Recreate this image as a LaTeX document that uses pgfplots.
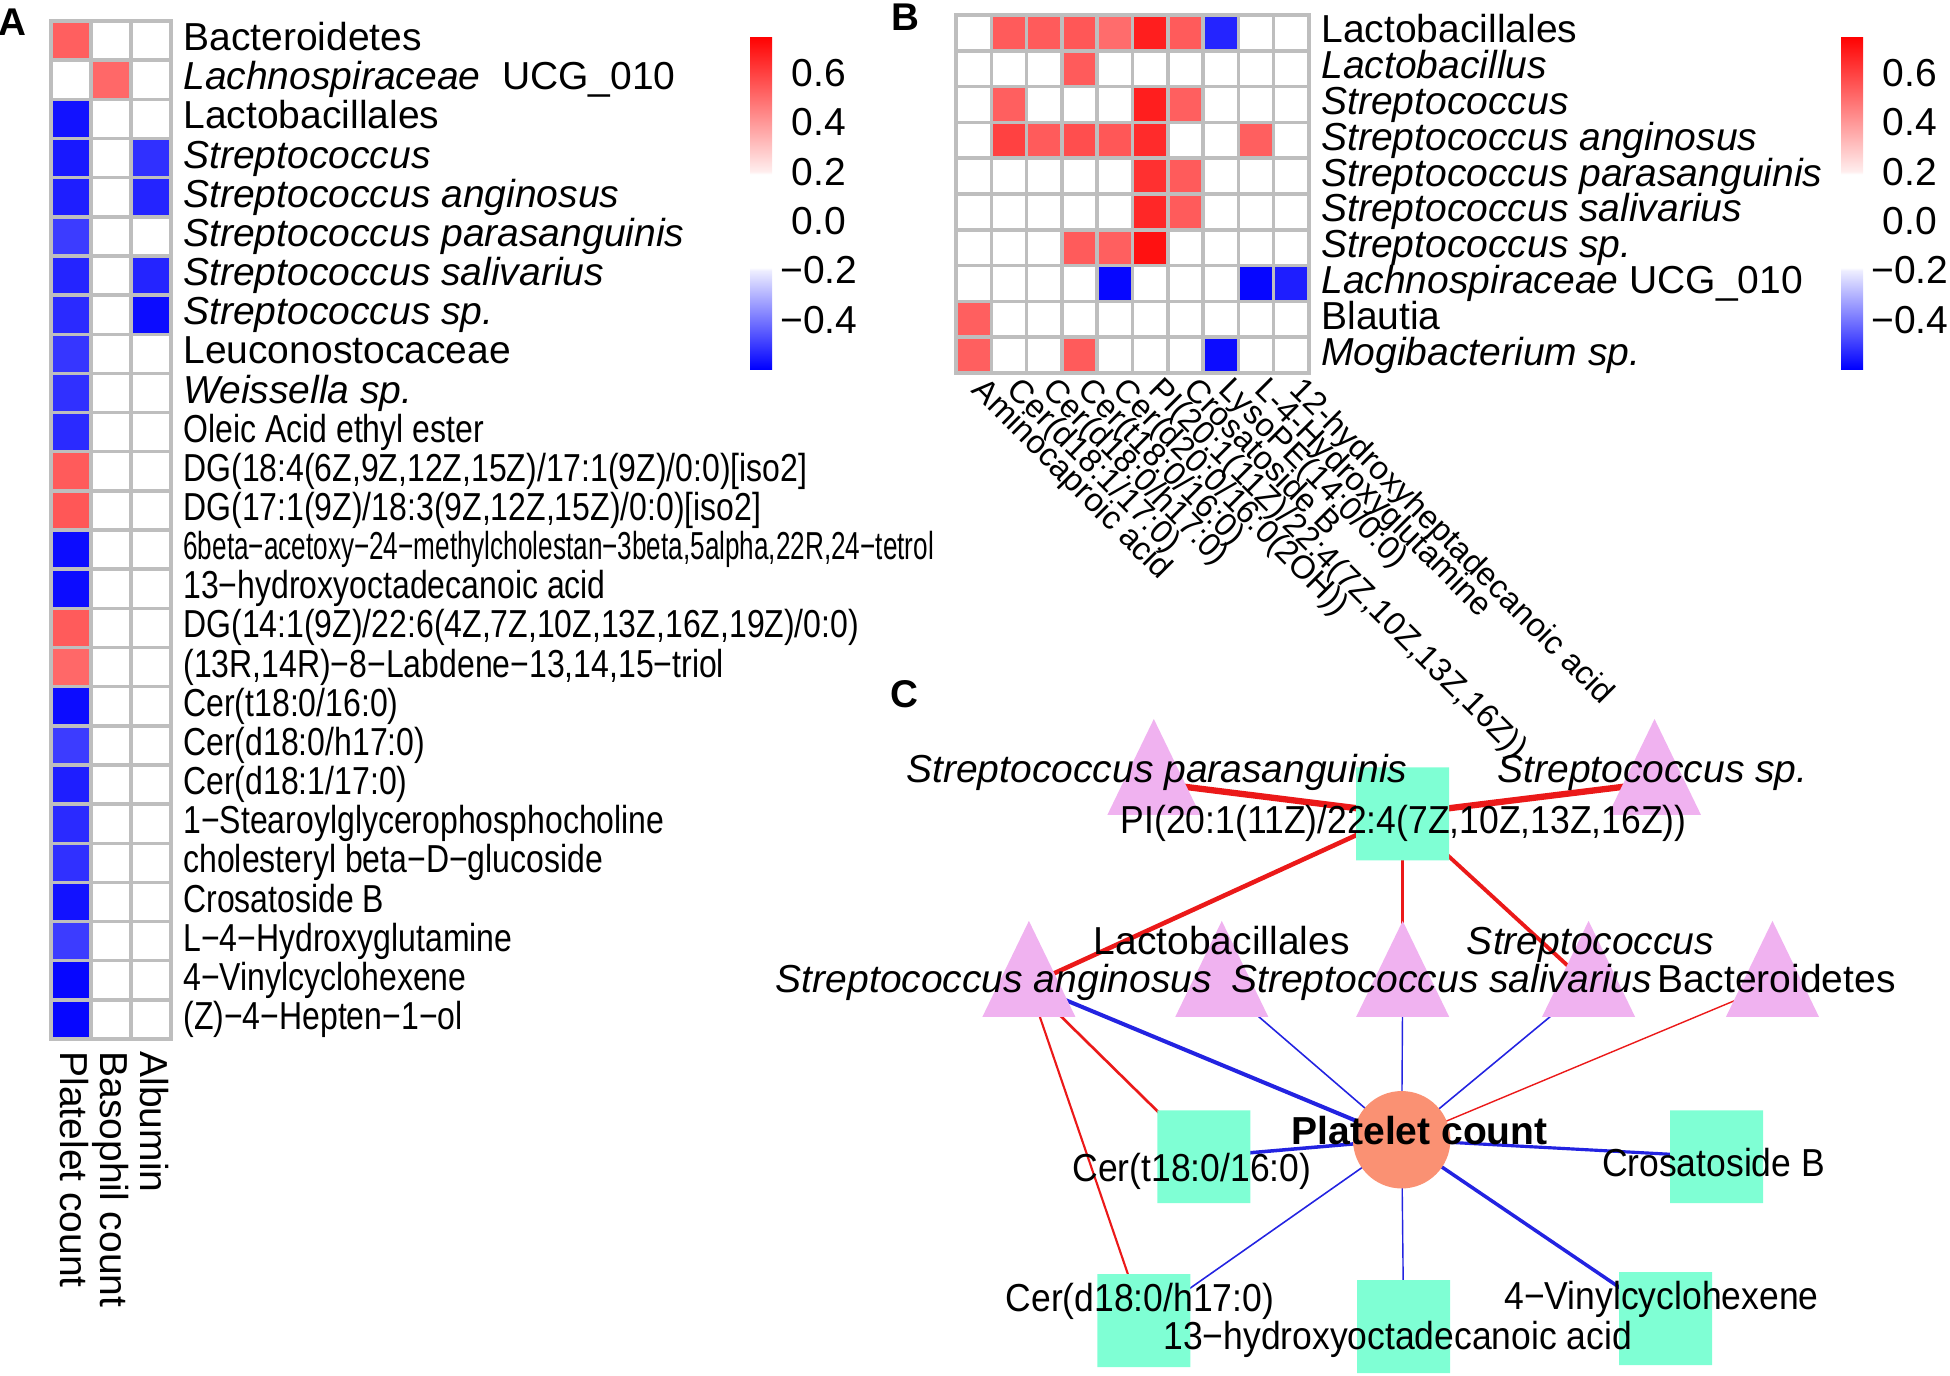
\documentclass[border=0pt]{standalone}
\usepackage{fontspec}
\setmainfont{Liberation Sans}
\usepackage{graphicx}
\usepackage{pgfplots}
\pgfplotsset{compat=1.18}

\definecolor{gridgray}{RGB}{190,190,190}
\definecolor{edgered}{RGB}{235,25,25}
\definecolor{edgeblue}{RGB}{35,35,225}
\definecolor{trifill}{RGB}{240,178,240}
\definecolor{sqfill}{RGB}{127,255,212}
\definecolor{circfill}{RGB}{250,145,115}

\newcommand\fs{\fontsize{11.1}{13.3}\selectfont}
\newcommand\fss{\fontsize{9.3}{11}\selectfont}
\newcommand\cn[1]{\scalebox{0.82}[1]{#1}}
\newcommand\cc[1]{\scalebox{0.91}[1]{#1}}

% rounded square and tall triangle for the network nodes
\pgfdeclareplotmark{rsq}{%
  \pgfsetcornersarced{\pgfqpoint{0.25\pgfplotmarksize}{0.25\pgfplotmarksize}}%
  \pgfpathmoveto{\pgfqpoint{0pt}{-\pgfplotmarksize}}%
  \pgfpathlineto{\pgfqpoint{\pgfplotmarksize}{-\pgfplotmarksize}}%
  \pgfpathlineto{\pgfqpoint{\pgfplotmarksize}{\pgfplotmarksize}}%
  \pgfpathlineto{\pgfqpoint{-\pgfplotmarksize}{\pgfplotmarksize}}%
  \pgfpathlineto{\pgfqpoint{-\pgfplotmarksize}{-\pgfplotmarksize}}%
  \pgfpathclose
  \pgfusepathqfill}
\pgfdeclareplotmark{tri}{%
  \pgfpathmoveto{\pgfqpoint{0pt}{1.376\pgfplotmarksize}}%
  \pgfpathlineto{\pgfqpoint{\pgfplotmarksize}{-0.688\pgfplotmarksize}}%
  \pgfpathlineto{\pgfqpoint{-\pgfplotmarksize}{-0.688\pgfplotmarksize}}%
  \pgfpathclose
  \pgfusepathqfill}

\pgfplotsset{
  colormap={corr}{rgb255(0pt)=(0,0,255); rgb255(40pt)=(238,238,255); rgb255(41pt)=(255,255,255);
    rgb255(79pt)=(255,255,255); rgb255(80pt)=(255,238,238); rgb255(135pt)=(255,0,0)},
  heat/.style={
    scale only axis, y dir=reverse, axis on top,
    colormap name=corr, point meta min=-0.6, point meta max=0.75,
    grid=minor, minor grid style={gridgray, line width=1pt},
    axis line style={gridgray, line width=1pt},
    major tick length=0pt, minor tick length=0pt,
    xticklabel pos=lower, yticklabel pos=right,
    yticklabel style={anchor=west, font=\fs, text height=8pt, text depth=2.3pt},
  },
  cbar/.style={colorbar, colorbar style={at={(#1)}, anchor=north west,
    scale only axis, width=0.22cm, height=3.33cm, axis line style={draw=none},
    ytick={-0.4,-0.2,0,0.2,0.4,0.6}, yticklabels={−0.4,−0.2,0.0,0.2,0.4,0.6},
    major tick length=0pt,
    yticklabel style={font=\fs, anchor=center, xshift=0.47cm}}},
  netbox/.style={at={(8.6cm,-6.8cm)}, anchor=north west, x=0.01cm, y=0.01cm,
    xmin=860, xmax=1950, ymin=680, ymax=1376, y dir=reverse, hide axis, clip=false},
}
\tikzset{lab/.style={font=\fs, text height=8pt, text depth=2.3pt, inner sep=0pt},
  panel/.style={font=\bfseries\fontsize{11}{13}\selectfont, inner sep=0pt}}

\begin{document}
\begin{tikzpicture}
\useasboundingbox (0,0) rectangle (19.5,-13.76);
\coordinate (cbA) at (7.20,-0.36);
\coordinate (cbB) at (18.11,-0.36);

% ---------------- A ----------------
\begin{axis}[heat, cbar=cbA,
  at={(0.51cm,-0.21cm)}, anchor=north west, width=1.2cm, height=10.18cm,
  xmin=0.5, xmax=3.5, ymin=0.5, ymax=26.5,
  xtick={1,2,3}, ytick={1,...,26},
  minor xtick={1.5,2.5}, minor ytick={1.5,2.5,...,25.5},
  xticklabels={Platelet count, Basophil count, Albumin},
  xticklabel style={rotate=-90, anchor=west, font=\fs, text height=8pt, text depth=2.3pt},
  yticklabels={Bacteroidetes, \textit{Lachnospiraceae}\ \ UCG\_010, Lactobacillales,
    \textit{Streptococcus}, \textit{Streptococcus anginosus}, \textit{Streptococcus parasanguinis},
    \textit{Streptococcus salivarius}, \textit{Streptococcus sp.}, Leuconostocaceae,
    \textit{Weissella sp.}, \cn{Oleic Acid ethyl ester},
    {\cn{DG(18:4(6Z,9Z,12Z,15Z)/17:1(9Z)/0:0)[iso2]}},
    {\cn{DG(17:1(9Z)/18:3(9Z,12Z,15Z)/0:0)[iso2]}},
    {\scalebox{0.67}[1]{6beta−acetoxy−24−methylcholestan−3beta,5alpha,22R,24−tetrol}},
    \cn{13−hydroxyoctadecanoic acid},
    {\cn{DG(14:1(9Z)/22:6(4Z,7Z,10Z,13Z,16Z,19Z)/0:0)}},
    {\cn{(13R,14R)−8−Labdene−13,14,15−triol}},
    \cn{Cer(t18:0/16:0)}, \cn{Cer(d18:0/h17:0)}, \cn{Cer(d18:1/17:0)},
    \cn{1−Stearoylglycerophosphocholine}, \cn{cholesteryl beta−D−glucoside},
    \cn{Crosatoside B}, \cn{L−4−Hydroxyglutamine}, \cn{4−Vinylcyclohexene},
    \cn{(Z)−4−Hepten−1−ol}},
]
\addplot[matrix plot*, mesh/cols=3, point meta=explicit] table[meta=c] {
x y c
1 1 0.53
2 1 0
3 1 0
1 2 0
2 2 0.51
3 2 0
1 3 -0.57
2 3 0
3 3 0
1 4 -0.56
2 4 0
3 4 -0.52
1 5 -0.55
2 5 0
3 5 -0.54
1 6 -0.50
2 6 0
3 6 0
1 7 -0.54
2 7 0
3 7 -0.54
1 8 -0.53
2 8 0
3 8 -0.58
1 9 -0.51
2 9 0
3 9 0
1 10 -0.52
2 10 0
3 10 0
1 11 -0.53
2 11 0
3 11 0
1 12 0.54
2 12 0
3 12 0
1 13 0.55
2 13 0
3 13 0
1 14 -0.58
2 14 0
3 14 0
1 15 -0.58
2 15 0
3 15 0
1 16 0.54
2 16 0
3 16 0
1 17 0.51
2 17 0
3 17 0
1 18 -0.58
2 18 0
3 18 0
1 19 -0.50
2 19 0
3 19 0
1 20 -0.55
2 20 0
3 20 0
1 21 -0.53
2 21 0
3 21 0
1 22 -0.52
2 22 0
3 22 0
1 23 -0.57
2 23 0
3 23 0
1 24 -0.50
2 24 0
3 24 0
1 25 -0.59
2 25 0
3 25 0
1 26 -0.59
2 26 0
3 26 0
};
\end{axis}

% ---------------- B ----------------
\begin{axis}[heat, cbar=cbB,
  at={(9.56cm,-0.15cm)}, anchor=north west, width=3.53cm, height=3.58cm,
  xmin=0.5, xmax=10.5, ymin=0.5, ymax=10.5,
  xtick={1,...,10}, ytick={1,...,10},
  minor xtick={1.5,2.5,...,9.5}, minor ytick={1.5,2.5,...,9.5},
  xticklabels={Aminocaproic acid, Cer(d18:1/17:0), Cer(d18:0/h17:0), Cer(t18:0/16:0),
    Cer(d20:0/16:0(2OH)), {PI(20:1(11Z)/22:4(7Z,10Z,13Z,16Z))}, Crosatoside B,
    LysoPE(14:0/0:0), L-4-Hydroxyglutamine, 12-hydroxyheptadecanoic acid},
  xticklabel shift=0.1cm,
  xticklabel style={rotate=-45, anchor=west, font=\fss, inner xsep=1pt,
    text height=6.7pt, text depth=1.9pt},
  yticklabels={Lactobacillales, \textit{Lactobacillus}, \textit{Streptococcus},
    \textit{Streptococcus anginosus}, \textit{Streptococcus parasanguinis},
    \textit{Streptococcus salivarius}, \textit{Streptococcus sp.},
    \textit{Lachnospiraceae} UCG\_010, Blautia, \textit{Mogibacterium sp.}},
]
\addplot[matrix plot*, mesh/cols=10, point meta=explicit] table[meta=c] {
x y c
1 1 0
2 1 0.54
3 1 0.54
4 1 0.55
5 1 0.50
6 1 0.68
7 1 0.54
8 1 -0.54
9 1 0
10 1 0
1 2 0
2 2 0
3 2 0
4 2 0.54
5 2 0
6 2 0
7 2 0
8 2 0
9 2 0
10 2 0
1 3 0
2 3 0.53
3 3 0
4 3 0
5 3 0
6 3 0.68
7 3 0.53
8 3 0
9 3 0
10 3 0
1 4 0
2 4 0.60
3 4 0.54
4 4 0.57
5 4 0.55
6 4 0.65
7 4 0
8 4 0
9 4 0.53
10 4 0
1 5 0
2 5 0
3 5 0
4 5 0
5 5 0
6 5 0.64
7 5 0.54
8 5 0
9 5 0
10 5 0
1 6 0
2 6 0
3 6 0
4 6 0
5 6 0
6 6 0.66
7 6 0.54
8 6 0
9 6 0
10 6 0
1 7 0
2 7 0
3 7 0
4 7 0.54
5 7 0.53
6 7 0.71
7 7 0
8 7 0
9 7 0
10 7 0
1 8 0
2 8 0
3 8 0
4 8 0
5 8 -0.59
6 8 0
7 8 0
8 8 0
9 8 -0.59
10 8 -0.55
1 9 0.53
2 9 0
3 9 0
4 9 0
5 9 0
6 9 0
7 9 0
8 9 0
9 9 0
10 9 0
1 10 0.53
2 10 0
3 10 0
4 10 0.54
5 10 0
6 10 0
7 10 0
8 10 -0.58
9 10 0
10 10 0
};
\end{axis}

% ---------------- C: edges and nodes ----------------
\begin{axis}[netbox]
\addplot[edgered, line width=1.8pt] coordinates {(1403,814) (1154,783)};
\addplot[edgered, line width=1.8pt] coordinates {(1403,814) (1655,783)};
\addplot[edgered, line width=1.3pt] coordinates {(1403,814) (1029,985)};
\addplot[edgered, line width=0.9pt] coordinates {(1403,814) (1403,985)};
\addplot[edgered, line width=1.1pt] coordinates {(1403,814) (1589,985)};
\addplot[edgeblue, line width=1.15pt] coordinates {(1029,985) (1402,1140)};
\addplot[edgered, line width=0.75pt] coordinates {(1029,985) (1204,1157)};
\addplot[edgered, line width=0.6pt] coordinates {(1029,985) (1144,1321)};
\addplot[edgeblue, line width=0.45pt] coordinates {(1222,985) (1402,1140)};
\addplot[edgeblue, line width=0.4pt] coordinates {(1403,985) (1402,1140)};
\addplot[edgeblue, line width=0.45pt] coordinates {(1589,985) (1402,1140)};
\addplot[edgered, line width=0.4pt] coordinates {(1773,985) (1402,1140)};
\addplot[edgeblue, line width=1.0pt] coordinates {(1402,1140) (1204,1157)};
\addplot[edgeblue, line width=0.9pt] coordinates {(1402,1140) (1717,1157)};
\addplot[edgeblue, line width=0.45pt] coordinates {(1402,1140) (1144,1321)};
\addplot[edgeblue, line width=0.4pt] coordinates {(1402,1140) (1404,1327)};
\addplot[edgeblue, line width=1.0pt] coordinates {(1402,1140) (1666,1319)};
\addplot[only marks, mark=tri, mark size=13.23pt, mark options={fill=trifill}] coordinates {
  (1154,783) (1655,783) (1029,985) (1222,985) (1403,985) (1589,985) (1773,985)};
\addplot[only marks, mark=rsq, mark size=13.23pt, mark options={fill=sqfill}] coordinates {
  (1403,814) (1204,1157) (1717,1157) (1144,1321) (1404,1327) (1666,1319)};
\addplot[only marks, mark=*, mark size=13.66pt, mark options={fill=circfill, draw=circfill}] coordinates {
  (1402,1140)};
\end{axis}

% ---------------- C: node labels, on top ----------------
\begin{axis}[netbox]
\node[lab] at (axis cs:1157,773) {\textit{Streptococcus parasanguinis}};
\node[lab] at (axis cs:1653,773) {\textit{Streptococcus sp.}};
\node[lab] at (axis cs:1404,824) {\cc{PI(20:1(11Z)/22:4(7Z,10Z,13Z,16Z))}};
\node[lab] at (axis cs:1222,945) {Lactobacillales};
\node[lab] at (axis cs:1591,945) {\textit{Streptococcus}};
\node[lab] at (axis cs:994,983) {\textit{Streptococcus anginosus}};
\node[lab] at (axis cs:1442,983) {\textit{Streptococcus salivarius}};
\node[lab] at (axis cs:1777,983) {Bacteroidetes};
\node[lab] at (axis cs:1420,1135) {\textbf{Platelet count}};
\node[lab] at (axis cs:1192,1172) {\cc{Cer(t18:0/16:0)}};
\node[lab] at (axis cs:1714,1167) {\cc{Crosatoside B}};
\node[lab] at (axis cs:1140,1302) {\cc{Cer(d18:0/h17:0)}};
\node[lab] at (axis cs:1398,1340) {\cc{13−hydroxyoctadecanoic acid}};
\node[lab] at (axis cs:1662,1300) {\cc{4−Vinylcyclohexene}};
\end{axis}

% panel letters
\node[panel] at (0.12,-0.22) {A};
\node[panel] at (9.05,-0.17) {B};
\node[panel] at (9.04,-6.94) {C};
\end{tikzpicture}
\end{document}
